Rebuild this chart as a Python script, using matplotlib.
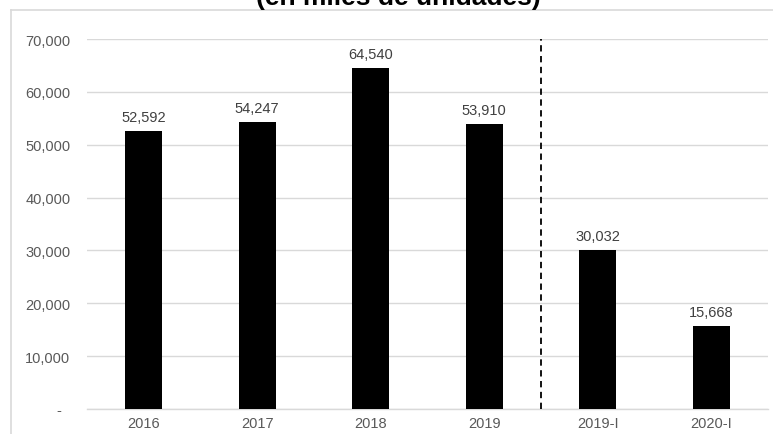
import matplotlib
matplotlib.use("Agg")
import matplotlib.pyplot as plt
from matplotlib.lines import Line2D
from matplotlib.ticker import FuncFormatter

categories = ["2016", "2017", "2018", "2019", "2019-I", "2020-I"]
values = [52592, 54247, 64540, 53910, 30032, 15668]
title = "(en miles de unidades)"
y_ticks = [0, 10000, 20000, 30000, 40000, 50000, 60000, 70000]

plt.rcParams["font.family"] = ["Liberation Sans", "DejaVu Sans"]

W, H = 773, 435
fig = plt.figure(figsize=(W / 100, H / 100), dpi=100)
ax = fig.add_axes([87 / W, (H - 410) / H, 681 / W, 370 / H])

x = list(range(len(categories)))
ax.bar(x, values, width=0.33, color="black", zorder=3)

for xi, v in zip(x, values):
    ax.annotate(f"{v:,}", (xi, v), xytext=(0, 5), textcoords="offset points",
                ha="center", va="bottom", fontsize=10.5, color="#404040")

ax.set_xlim(-0.5, len(categories) - 0.5)
ax.set_ylim(0, 70000)
ax.set_yticks(y_ticks)
ax.yaxis.set_major_formatter(FuncFormatter(lambda v, p: "-  " if v == 0 else f"{v:,.0f}"))
ax.set_xticks(x)
ax.set_xticklabels(categories)
ax.tick_params(axis="both", length=0, labelsize=10.5, labelcolor="#595959")
ax.tick_params(axis="y", pad=12)
ax.tick_params(axis="x", pad=5)
ax.grid(axis="y", color="#d9d9d9", linewidth=1, zorder=0)
for s in ["top", "right", "left"]:
    ax.spines[s].set_visible(False)
ax.spines["bottom"].set_color("#d9d9d9")
ax.spines["bottom"].set_linewidth(1)

ax.plot([3.5, 3.5], [0, 70000], color="black", linewidth=1.3,
        dashes=(3.5, 2.5), zorder=4, clip_on=False)

# chart-area border (left and top)
fig.add_artist(Line2D([10.5 / W, 10.5 / W], [0, 1 - 10.5 / H], transform=fig.transFigure,
                      color="#d9d9d9", linewidth=1.2))
fig.add_artist(Line2D([10.5 / W, 1], [1 - 10.5 / H, 1 - 10.5 / H], transform=fig.transFigure,
                      color="#d9d9d9", linewidth=1.2))

fig.text(398 / W, 1 - 4.5 / H, title, ha="center", va="baseline",
         fontsize=19, fontweight="bold", color="black")

fig.savefig("out.png", dpi=100)
